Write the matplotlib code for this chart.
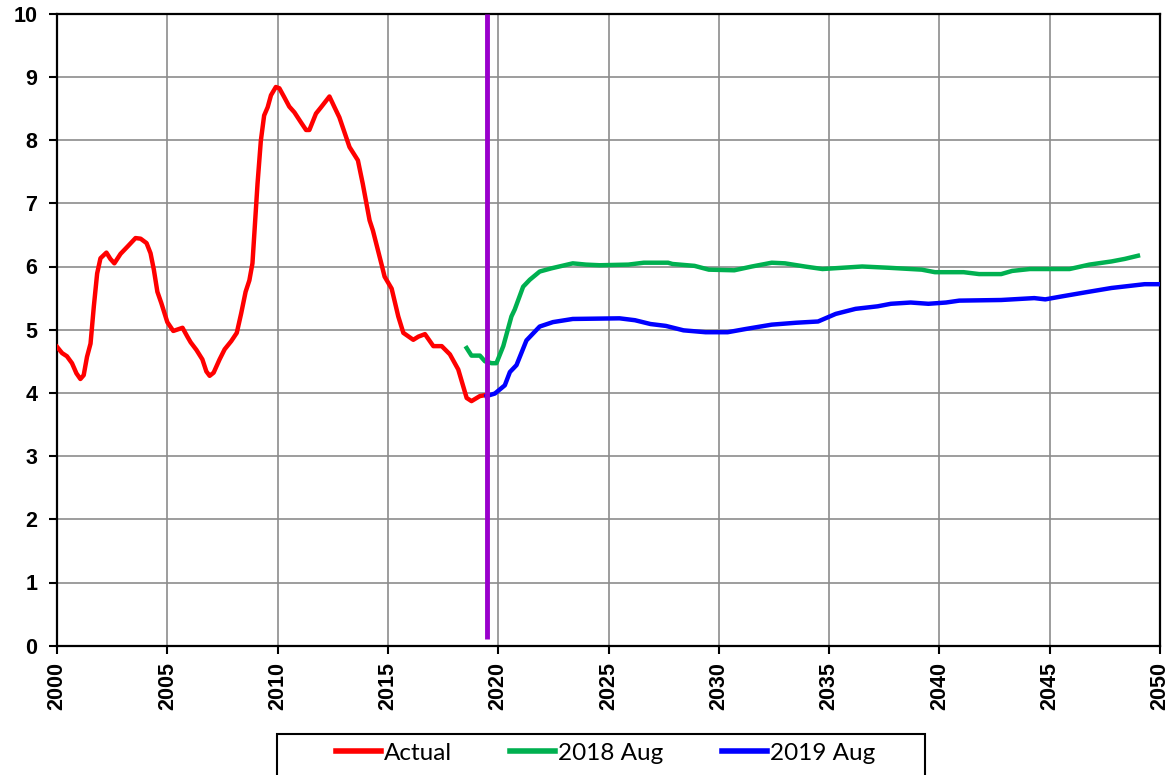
import matplotlib
matplotlib.use('Agg')
import matplotlib.pyplot as plt
from matplotlib.patches import Rectangle

# Serie "Actual" (rojo)
red_years = [2000.0, 2000.23, 2000.45, 2000.68, 2000.88, 2001.06, 2001.21, 2001.36, 2001.52, 2001.67,
             2001.82, 2001.97, 2002.24, 2002.42, 2002.6, 2002.88, 2003.21, 2003.56, 2003.79, 2004.06,
             2004.24, 2004.39, 2004.55, 2004.73, 2005.0, 2005.27, 2005.69, 2005.91, 2006.06, 2006.32,
             2006.59, 2006.77, 2006.92, 2007.1, 2007.37, 2007.6, 2007.9, 2008.15, 2008.35, 2008.55,
             2008.72, 2008.86, 2009.09, 2009.24, 2009.39, 2009.55, 2009.7, 2009.92, 2010.08, 2010.3,
             2010.53, 2010.76, 2011.06, 2011.29, 2011.44, 2011.74, 2011.97, 2012.35, 2012.58, 2012.8,
             2013.26, 2013.64, 2013.86, 2014.17, 2014.32, 2014.7, 2014.85, 2015.17, 2015.47, 2015.7,
             2016.15, 2016.38, 2016.68, 2017.06, 2017.44, 2017.81, 2018.19, 2018.57, 2018.79, 2019.17,
             2019.5]
red_values = [4.73, 4.63, 4.58, 4.47, 4.31, 4.22, 4.28, 4.57, 4.78, 5.37,
              5.89, 6.13, 6.22, 6.12, 6.05, 6.2, 6.32, 6.45, 6.44, 6.37,
              6.21, 5.95, 5.6, 5.42, 5.12, 4.98, 5.03, 4.89, 4.8, 4.68,
              4.53, 4.34, 4.27, 4.32, 4.53, 4.69, 4.82, 4.95, 5.26, 5.6,
              5.78, 6.05, 7.31, 7.99, 8.39, 8.52, 8.71, 8.84, 8.82, 8.68,
              8.53, 8.44, 8.28, 8.16, 8.16, 8.42, 8.52, 8.69, 8.52, 8.36,
              7.89, 7.68, 7.31, 6.73, 6.57, 6.05, 5.84, 5.65, 5.21, 4.95,
              4.84, 4.89, 4.93, 4.74, 4.74, 4.61, 4.37, 3.92, 3.87, 3.95,
              3.97]

# Serie "2018 Aug" (verde)
green_years = [2018.57, 2018.79, 2019.17, 2019.4, 2019.7, 2019.92, 2020.23, 2020.6, 2020.75, 2021.13,
               2021.43, 2021.88, 2022.4, 2023.38, 2023.98, 2024.6, 2025.9, 2026.6, 2027.7, 2027.9,
               2028.9, 2029.55, 2030.7, 2031.5, 2032.4, 2033.0, 2033.9, 2034.7, 2036.5, 2037.7,
               2039.2, 2039.8, 2041.1, 2041.8, 2042.8, 2043.3, 2044.1, 2045.9, 2046.8, 2047.8,
               2048.4, 2049.0]
green_values = [4.71, 4.59, 4.59, 4.5, 4.47, 4.47, 4.74, 5.21, 5.32, 5.68,
                5.79, 5.92, 5.97, 6.05, 6.03, 6.02, 6.03, 6.06, 6.06, 6.04,
                6.01, 5.95, 5.94, 6.0, 6.06, 6.05, 6.0, 5.96, 6.0, 5.98,
                5.95, 5.91, 5.91, 5.88, 5.88, 5.93, 5.96, 5.96, 6.03, 6.08,
                6.12, 6.17]

# Serie "2019 Aug" (azul)
blue_years = [2019.47, 2019.85, 2020.3, 2020.53, 2020.83, 2021.28, 2021.88, 2022.48, 2023.38, 2025.5,
              2026.2, 2026.9, 2027.6, 2028.4, 2029.4, 2030.4, 2031.2, 2032.4, 2033.5, 2034.5,
              2035.3, 2036.2, 2037.2, 2037.8, 2038.7, 2039.5, 2040.3, 2040.9, 2042.8, 2044.3,
              2044.8, 2045.6, 2046.6, 2047.8, 2049.3, 2050.0]
blue_values = [3.95, 3.99, 4.12, 4.33, 4.44, 4.83, 5.05, 5.12, 5.17, 5.18,
               5.15, 5.09, 5.06, 4.99, 4.96, 4.96, 5.01, 5.08, 5.11, 5.13,
               5.25, 5.33, 5.37, 5.41, 5.43, 5.41, 5.43, 5.46, 5.47, 5.5,
               5.48, 5.53, 5.59, 5.66, 5.72, 5.72]

# Línea vertical (fecha actual)
marker_year = 2019.5
marker_range = [0.1, 10]

x_ticks = list(range(2000, 2051, 5))
y_ticks = list(range(0, 11))

W, H = 1173, 775
fig = plt.figure(figsize=(W / 100, H / 100), dpi=100)
ax = fig.add_axes([57 / W, 1 - 645.7 / H, 1103 / W, 632 / H])

ax.grid(True, color='#8c8c8c', linewidth=1.2, zorder=0)
ax.set_axisbelow(True)

ax.plot(red_years, red_values, color='#ff0000', linewidth=3.2, label='Actual', zorder=3)
ax.plot(green_years, green_values, color='#00b050', linewidth=3.2, label='2018 Aug', zorder=3)
ax.plot(blue_years, blue_values, color='#0000ff', linewidth=3.2, label='2019 Aug', zorder=3)
ax.plot([marker_year, marker_year], marker_range, color='#9900cc', linewidth=3.5,
        solid_capstyle='butt', zorder=4)

ax.set_xlim(2000, 2050)
ax.set_ylim(0, 10)
ax.set_xticks(x_ticks)
ax.set_yticks(y_ticks)

for spine in ax.spines.values():
    spine.set_color('black')
    spine.set_linewidth(1.6)

ax.tick_params(direction='out', length=6, width=1.5, color='black')
ax.tick_params(axis='y', pad=8)
ax.tick_params(axis='x', pad=6)
for lbl in ax.get_yticklabels() + ax.get_xticklabels():
    lbl.set_fontfamily(['Liberation Sans', 'DejaVu Sans'])
    lbl.set_fontweight('bold')
    lbl.set_fontsize(15.5)
for lbl in ax.get_xticklabels():
    lbl.set_rotation(90)

# Marco de la leyenda (cortado por el borde inferior)
fig.add_artist(Rectangle((277 / W, -0.02), (925 - 277) / W, 0.02 + 1 - 734 / H,
                         transform=fig.transFigure, facecolor='white', edgecolor='black',
                         linewidth=1.5, zorder=5))

leg = fig.legend(loc='center left', bbox_to_anchor=(336 / W, 1 - 753 / H), ncol=3,
                 frameon=False, prop={'family': ['Lato', 'DejaVu Sans'], 'size': 17.5},
                 handlelength=1.85, handletextpad=0.12, columnspacing=2.4, borderpad=0,
                 borderaxespad=0)
leg.set_zorder(6)
for line in leg.get_lines():
    line.set_linewidth(4)

fig.savefig('out.png', dpi=100)
